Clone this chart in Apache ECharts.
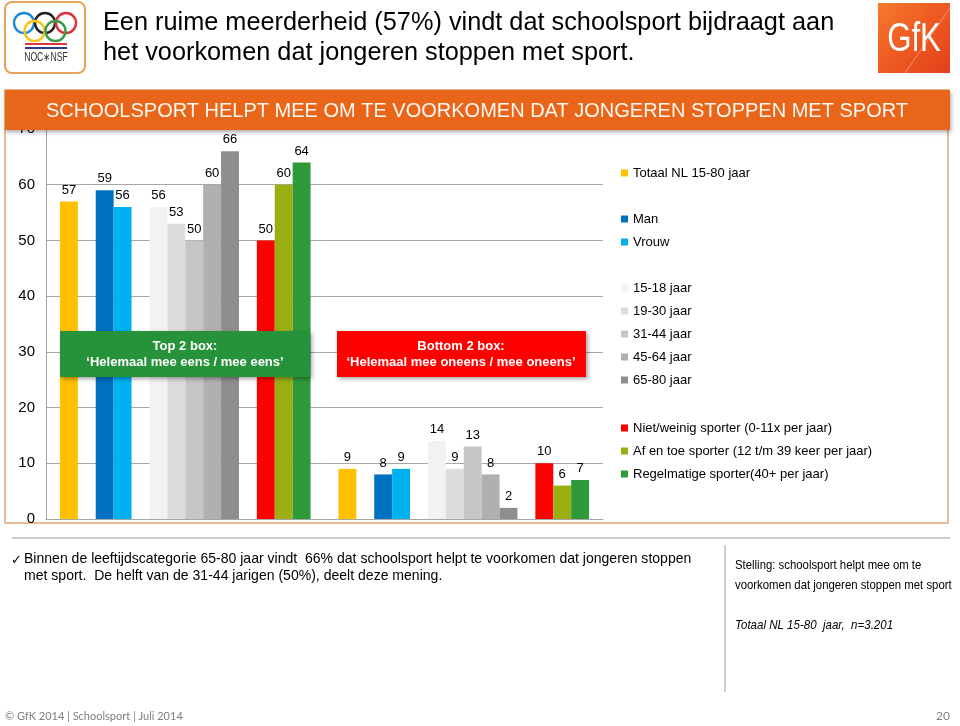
<!DOCTYPE html>
<html>
<head>
<meta charset="utf-8">
<script src="https://cdn.jsdelivr.net/npm/echarts@6/dist/echarts.min.js"></script>
<style>
html,body{margin:0;padding:0;background:#fff;}
#chart{width:960px;height:726px;}
</style>
</head>
<body>
<div id="chart"></div>
<script>
// ---- data ----
const categories = ['Top 2 box', 'Bottom 2 box'];
const totaal      = [57, 9];
const man         = [59, 8];
const vrouw       = [56, 9];
const age1518     = [56, 14];
const age1930     = [53, 9];
const age3144     = [50, 13];
const age4564     = [60, 8];
const age6580     = [66, 2];
const nietWeinig  = [50, 10];
const afEnToe     = [60, 6];
const regelmatig  = [64, 7];
const yTicks = [0, 10, 20, 30, 40, 50, 60, 70];

const seriesDefs = [
  {name: 'Totaal NL 15-80 jaar', data: totaal, color: '#FFC000'},
  null,
  {name: 'Man', data: man, color: '#0070C0'},
  {name: 'Vrouw', data: vrouw, color: '#00B0F0'},
  null,
  {name: '15-18 jaar', data: age1518, color: '#F2F2F2'},
  {name: '19-30 jaar', data: age1930, color: '#DDDDDD'},
  {name: '31-44 jaar', data: age3144, color: '#C6C6C6'},
  {name: '45-64 jaar', data: age4564, color: '#B0B0B0'},
  {name: '65-80 jaar', data: age6580, color: '#8E8E8E'},
  null,
  {name: 'Niet/weinig sporter (0-11x per jaar)', data: nietWeinig, color: '#FF0000'},
  {name: 'Af en toe sporter (12 t/m 39 keer per jaar)', data: afEnToe, color: '#9BAE12'},
  {name: 'Regelmatige sporter(40+ per jaar)', data: regelmatig, color: '#2F9A3A'}
];

const FONT = "'Liberation Sans', Arial, sans-serif";

let gapIdx = 0;
const series = seriesDefs.map(d => {
  if (!d) {
    gapIdx++;
    return {name: 'gap' + gapIdx, type: 'bar', data: categories.map(() => '-'), barGap: '0%', barCategoryGap: '10%', silent: true};
  }
  return {
    name: d.name, type: 'bar', data: d.data,
    barGap: '0%', barCategoryGap: '10%',
    itemStyle: {color: d.color},
    label: {show: true, position: 'top', distance: 5, fontSize: 13, color: '#000', fontFamily: FONT}
  };
});

const legendCommon = {
  orient: 'vertical', left: 621, padding: 0, itemWidth: 7, itemHeight: 7, itemGap: 7,
  icon: 'rect', selectedMode: false,
  textStyle: {fontSize: 13, color: '#000', fontFamily: FONT, lineHeight: 16}
};

// condensed text helper (narrow look via horizontal scale)
function narrow(text, x, y, size, sx, extra) {
  return Object.assign({type: 'text', z: 10, x: x, y: y, scaleX: sx, scaleY: 1,
    style: Object.assign({text: text, font: size + 'px ' + FONT, fill: '#000', verticalAlign: 'middle'}, extra || {})});
}

const chart = echarts.init(document.getElementById('chart'), null, {renderer: 'canvas', width: 960, height: 726});

const graphic = [
  // chart frame
  {type: 'rect', z: 0, shape: {x: 5, y: 90, width: 943, height: 433},
   style: {fill: 'none', stroke: '#E2A677', lineWidth: 1.5}},
  // orange banner
  {type: 'rect', z: 100, shape: {x: 5, y: 90, width: 945, height: 40},
   style: {fill: '#E8651A', shadowBlur: 4, shadowOffsetY: 2, shadowOffsetX: 1, shadowColor: 'rgba(0,0,0,0.35)'}},
  {type: 'text', z: 101, x: 477, y: 111,
   style: {text: 'SCHOOLSPORT HELPT MEE OM TE VOORKOMEN DAT JONGEREN STOPPEN MET SPORT', font: '20px ' + FONT, fill: '#FFF8F0', align: 'center', verticalAlign: 'middle'}},
  // title
  {type: 'text', z: 10, x: 103, y: 23,
   style: {text: 'Een ruime meerderheid (57%) vindt dat schoolsport bijdraagt aan', font: '25.3px ' + FONT, fill: '#000', verticalAlign: 'middle'}},
  {type: 'text', z: 10, x: 103, y: 53,
   style: {text: 'het voorkomen dat jongeren stoppen met sport.', font: '25.3px ' + FONT, fill: '#000', verticalAlign: 'middle'}},
  // annotation boxes
  {type: 'rect', z: 100, shape: {x: 60, y: 331, width: 250, height: 46},
   style: {fill: '#26923A', shadowBlur: 4, shadowOffsetX: 2, shadowOffsetY: 2, shadowColor: 'rgba(0,0,0,0.35)'}},
  {type: 'text', z: 101, x: 185, y: 354,
   style: {text: 'Top 2 box:\n\u2018Helemaal mee eens / mee eens\u2019', font: 'bold 13px ' + FONT, lineHeight: 16, fill: '#fff', align: 'center', verticalAlign: 'middle'}},
  {type: 'rect', z: 100, shape: {x: 337, y: 331, width: 249, height: 46},
   style: {fill: '#FF0000', shadowBlur: 4, shadowOffsetX: 2, shadowOffsetY: 2, shadowColor: 'rgba(0,0,0,0.35)'}},
  {type: 'text', z: 101, x: 461, y: 354,
   style: {text: 'Bottom 2 box:\n\u2018Helemaal mee oneens / mee oneens\u2019', font: 'bold 13px ' + FONT, lineHeight: 16, fill: '#fff', align: 'center', verticalAlign: 'middle'}},
  // NOC*NSF logo
  {type: 'rect', z: 10, shape: {x: 5, y: 2, width: 80, height: 71, r: 7},
   style: {fill: '#fff', stroke: '#E9A25A', lineWidth: 2}},
  {type: 'circle', z: 11, shape: {cx: 24, cy: 23, r: 10}, style: {fill: 'none', stroke: '#1F8BD0', lineWidth: 2.4}},
  {type: 'circle', z: 11, shape: {cx: 45, cy: 23, r: 10}, style: {fill: 'none', stroke: '#222', lineWidth: 2.4}},
  {type: 'circle', z: 11, shape: {cx: 66, cy: 23, r: 10}, style: {fill: 'none', stroke: '#E0303A', lineWidth: 2.4}},
  {type: 'circle', z: 11, shape: {cx: 34.5, cy: 31, r: 10}, style: {fill: 'none', stroke: '#F5C518', lineWidth: 2.4}},
  {type: 'circle', z: 11, shape: {cx: 55.5, cy: 31, r: 10}, style: {fill: 'none', stroke: '#3A9B48', lineWidth: 2.4}},
  {type: 'rect', z: 11, shape: {x: 25, y: 43, width: 42, height: 2}, style: {fill: '#D9363E'}},
  {type: 'rect', z: 11, shape: {x: 25, y: 47, width: 42, height: 2}, style: {fill: '#2C3E8F'}},
  Object.assign(narrow('NOC\u2217NSF', 46, 58, 12, 0.72, {fill: '#333', align: 'center'}), {z: 11}),
  // GfK logo
  {type: 'rect', z: 10, shape: {x: 878, y: 3, width: 72, height: 70},
   style: {fill: new echarts.graphic.LinearGradient(0, 0, 1, 1, [{offset: 0, color: '#F47A2E'}, {offset: 0.5, color: '#EE5A22'}, {offset: 1, color: '#E2401A'}])}},
  {type: 'line', z: 11, shape: {x1: 905, y1: 73, x2: 950, y2: 8}, style: {stroke: 'rgba(255,255,255,0.35)', lineWidth: 1}},
  Object.assign(narrow('GfK', 914, 40, 40, 0.78, {fill: '#fff', align: 'center'}), {z: 12}),
  // bottom section
  {type: 'line', z: 10, shape: {x1: 12, y1: 538, x2: 950, y2: 538}, style: {stroke: '#9A9A9A', lineWidth: 1}},
  {type: 'line', z: 10, shape: {x1: 725, y1: 545, x2: 725, y2: 692}, style: {stroke: '#9A9A9A', lineWidth: 1}},
  {type: 'text', z: 10, x: 11, y: 560,
   style: {text: '\u2713', font: '13px ' + FONT, fill: '#000', verticalAlign: 'middle'}},
  narrow('Binnen de leeftijdscategorie 65-80 jaar vindt  66% dat schoolsport helpt te voorkomen dat jongeren stoppen', 24, 559, 15, 0.936),
  narrow('met sport.  De helft van de 31-44 jarigen (50%), deelt deze mening.', 24, 576, 15, 0.936),
  narrow('Stelling: schoolsport helpt mee om te', 735, 565, 13, 0.874),
  narrow('voorkomen dat jongeren stoppen met sport', 735, 585, 13, 0.874),
  narrow('Totaal NL 15-80  jaar,  n=3.201', 735, 625, 13, 0.886, {font: 'italic 13px ' + FONT}),
  // footer
  {type: 'text', z: 10, x: 5, y: 716,
   style: {text: '\u00A9 GfK 2014 | Schoolsport | Juli 2014', font: "11px Lato, 'Liberation Sans', sans-serif", fill: '#7F7F7F', verticalAlign: 'middle'}},
  {type: 'text', z: 10, x: 950, y: 716,
   style: {text: '20', font: "12px Lato, 'Liberation Sans', sans-serif", fill: '#7F7F7F', align: 'right', verticalAlign: 'middle'}}
];

chart.setOption({
  animation: false,
  backgroundColor: '#fff',
  grid: {left: 46, right: 357, top: 129, bottom: 207, containLabel: false},
  xAxis: {
    type: 'category', data: categories,
    axisLine: {show: true, lineStyle: {color: '#A6A6A6'}},
    axisTick: {show: false}, axisLabel: {show: false}
  },
  yAxis: {
    type: 'value', min: yTicks[0], max: yTicks[yTicks.length - 1], interval: 10,
    axisLine: {show: true, lineStyle: {color: '#A6A6A6'}},
    axisTick: {show: false},
    axisLabel: {fontSize: 15, color: '#000', fontFamily: FONT, margin: 11},
    splitLine: {lineStyle: {color: '#A6A6A6'}}
  },
  legend: [
    Object.assign({top: 165, data: ['Totaal NL 15-80 jaar']}, legendCommon),
    Object.assign({top: 211, data: ['Man', 'Vrouw']}, legendCommon),
    Object.assign({top: 280, data: ['15-18 jaar', '19-30 jaar', '31-44 jaar', '45-64 jaar', '65-80 jaar']}, legendCommon),
    Object.assign({top: 420, data: ['Niet/weinig sporter (0-11x per jaar)', 'Af en toe sporter (12 t/m 39 keer per jaar)', 'Regelmatige sporter(40+ per jaar)']}, legendCommon)
  ],
  series: series,
  graphic: graphic
});
</script>
</body>
</html>
